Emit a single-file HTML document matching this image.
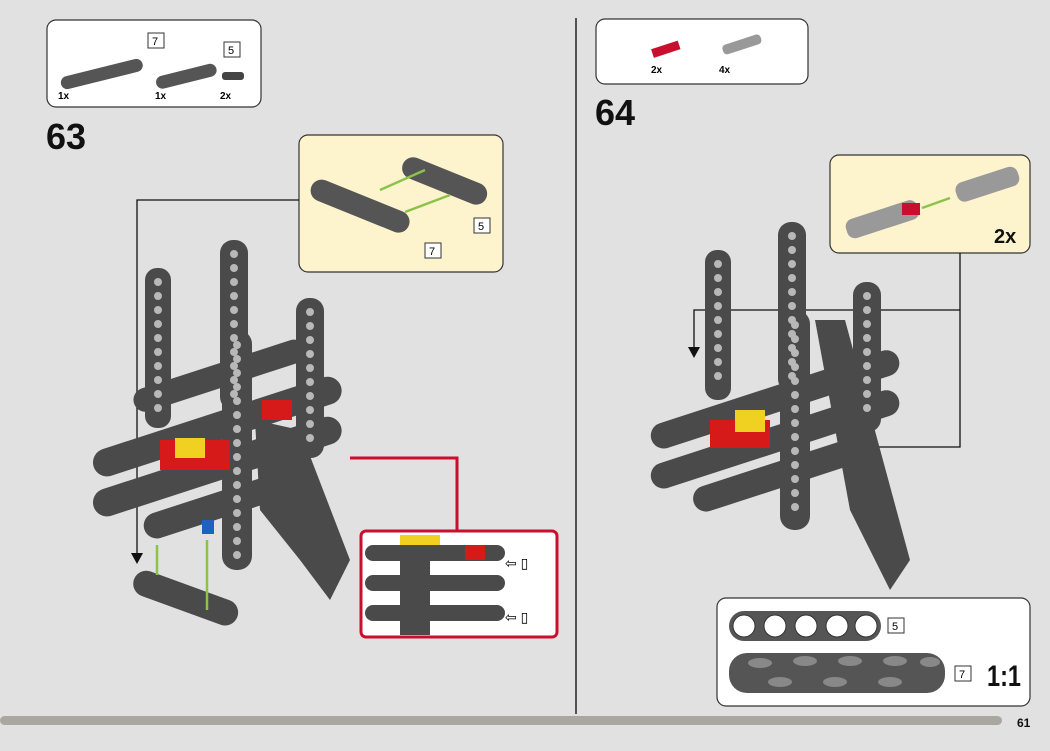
<!DOCTYPE html>
<html><head><meta charset="utf-8"><style>
body{margin:0;width:1050px;height:746px;background:#e1e1e1;overflow:hidden;font-family:"Liberation Sans",sans-serif;}
.h{fill:none;stroke:#b8b8b8;stroke-width:8;stroke-linecap:round;stroke-dasharray:0 14;}
</style></head><body>
<svg width="1050" height="746" viewBox="0 0 1050 746" xmlns="http://www.w3.org/2000/svg" font-family="Liberation Sans, sans-serif">
<rect width="1050" height="746" fill="#e1e1e1"/>
<line x1="576" y1="18" x2="576" y2="714" stroke="#222" stroke-width="1.5"/>
<rect x="0" y="716" width="1002" height="9" rx="4.5" fill="#aaa6a0"/>
<text x="1017" y="727" font-size="12" font-weight="bold" fill="#111">61</text>

<rect x="47" y="20" width="214" height="87" rx="9" fill="#fff" stroke="#333" stroke-width="1.2"/>
<g transform="rotate(-14 100 75)"><rect x="60" y="68" width="84" height="13" rx="6.5" fill="#555"/></g>
<g transform="rotate(-14 185 75)"><rect x="155" y="70" width="62" height="13" rx="6.5" fill="#555"/></g>
<rect x="222" y="72" width="22" height="8" rx="3" fill="#444"/>
<rect x="148" y="33" width="16" height="15" fill="#fff" stroke="#333"/><text x="152" y="45" font-size="11">7</text>
<rect x="224" y="42" width="16" height="15" fill="#fff" stroke="#333"/><text x="228" y="54" font-size="11">5</text>
<text x="58" y="99" font-size="10" font-weight="bold">1x</text>
<text x="155" y="99" font-size="10" font-weight="bold">1x</text>
<text x="220" y="99" font-size="10" font-weight="bold">2x</text>
<text x="46" y="149" font-size="36" font-weight="bold" fill="#111">63</text>

<rect x="299" y="135" width="204" height="137" rx="9" fill="#fdf3cd" stroke="#333" stroke-width="1.2"/>
<g transform="rotate(22 360 205)"><rect x="308" y="195" width="105" height="22" rx="11" fill="#555"/></g>
<g transform="rotate(22 445 180)"><rect x="400" y="170" width="90" height="22" rx="11" fill="#555"/></g>
<line x1="380" y1="190" x2="425" y2="170" stroke="#8bc34a" stroke-width="2.5"/>
<line x1="405" y1="212" x2="450" y2="195" stroke="#8bc34a" stroke-width="2.5"/>
<rect x="474" y="218" width="16" height="15" fill="#fff" stroke="#333"/><text x="478" y="230" font-size="11">5</text>
<rect x="425" y="243" width="16" height="15" fill="#fff" stroke="#333"/><text x="429" y="255" font-size="11">7</text>

<polyline points="299,200 137,200 137,555" fill="none" stroke="#111" stroke-width="1.3"/>
<polygon points="131,553 143,553 137,564" fill="#111"/>

<g fill="#4a4a4a">
<rect x="145" y="268" width="26" height="160" rx="12"/>
<rect x="220" y="240" width="28" height="170" rx="13"/>
<rect x="296" y="298" width="28" height="160" rx="13"/>
<g transform="rotate(-18 210 430)"><rect x="88" y="415" width="260" height="28" rx="14"/></g>
<g transform="rotate(-18 210 470)"><rect x="88" y="455" width="260" height="28" rx="14"/></g>
<g transform="rotate(-18 210 505)"><rect x="140" y="495" width="160" height="26" rx="13"/></g>
<g transform="rotate(-18 200 380)"><rect x="130" y="370" width="180" height="24" rx="12"/></g>
<path d="M255 420 L300 430 L350 560 L330 600 L300 560 L260 510 Z"/>
<rect x="222" y="330" width="30" height="240" rx="14"/>
<g transform="rotate(20 185 600)"><rect x="130" y="585" width="110" height="26" rx="13"/></g>
</g>
<line class="h" x1="158" y1="282" x2="158" y2="420"/>
<line class="h" x1="234" y1="254" x2="234" y2="400"/>
<line class="h" x1="310" y1="312" x2="310" y2="450"/>
<line class="h" x1="237" y1="345" x2="237" y2="560"/>
<rect x="160" y="440" width="70" height="30" fill="#d61a1a"/>
<rect x="175" y="438" width="30" height="20" fill="#f0d020"/>
<rect x="262" y="400" width="30" height="20" fill="#d61a1a"/>
<rect x="202" y="520" width="12" height="14" fill="#2060c0"/>
<line x1="157" y1="545" x2="157" y2="575" stroke="#8bc34a" stroke-width="2.5"/>
<line x1="207" y1="540" x2="207" y2="610" stroke="#8bc34a" stroke-width="2.5"/>
<polyline points="350,458 457,458 457,531" fill="none" stroke="#c8102e" stroke-width="3"/>
<rect x="361" y="531" width="196" height="106" rx="5" fill="#fff" stroke="#c8102e" stroke-width="3"/>
<g fill="#4a4a4a">
<rect x="365" y="545" width="140" height="16" rx="8"/>
<rect x="365" y="575" width="140" height="16" rx="8"/>
<rect x="365" y="605" width="140" height="16" rx="8"/>
<rect x="400" y="535" width="30" height="100"/>
</g>
<rect x="400" y="535" width="40" height="10" fill="#f0d020"/>
<rect x="465" y="545" width="20" height="15" fill="#d61a1a"/>
<text x="505" y="568" font-size="14">⇦ ▯</text>
<text x="505" y="622" font-size="14">⇦ ▯</text>

<rect x="596" y="19" width="212" height="65" rx="9" fill="#fff" stroke="#333" stroke-width="1.2"/>
<g transform="rotate(-18 665 50)"><rect x="652" y="45" width="28" height="9" fill="#c8102e"/></g>
<g transform="rotate(-18 740 45)"><rect x="722" y="40" width="40" height="10" rx="4" fill="#999"/></g>
<text x="651" y="73" font-size="10" font-weight="bold">2x</text>
<text x="719" y="73" font-size="10" font-weight="bold">4x</text>
<text x="595" y="125" font-size="36" font-weight="bold" fill="#111">64</text>

<rect x="830" y="155" width="200" height="98" rx="9" fill="#fdf3cd" stroke="#333" stroke-width="1.2"/>
<g transform="rotate(-18 880 220)"><rect x="845" y="210" width="75" height="20" rx="8" fill="#999"/></g>
<rect x="902" y="203" width="18" height="12" fill="#c8102e"/>
<g transform="rotate(-18 985 185)"><rect x="955" y="175" width="65" height="20" rx="8" fill="#999"/></g>
<line x1="922" y1="208" x2="950" y2="198" stroke="#8bc34a" stroke-width="2.5"/>
<text x="994" y="243" font-size="20" font-weight="bold" fill="#111">2x</text>

<polyline points="960,253 960,447 855,447" fill="none" stroke="#111" stroke-width="1.3"/>
<polygon points="848,447 858,441 858,453" fill="#111"/>
<polyline points="960,310 694,310 694,350" fill="none" stroke="#111" stroke-width="1.3"/>
<polygon points="688,347 700,347 694,358" fill="#111"/>

<g fill="#4a4a4a">
<rect x="705" y="250" width="26" height="150" rx="12"/>
<rect x="778" y="222" width="28" height="170" rx="13"/>
<rect x="853" y="282" width="28" height="150" rx="13"/>
<g transform="rotate(-18 770 400)"><rect x="645" y="388" width="260" height="26" rx="13"/></g>
<g transform="rotate(-18 770 440)"><rect x="645" y="428" width="260" height="26" rx="13"/></g>
<g transform="rotate(-18 760 480)"><rect x="690" y="468" width="170" height="26" rx="13"/></g>
<path d="M815 320 L845 320 L910 560 L890 590 L850 510 Z"/>
<rect x="780" y="310" width="30" height="220" rx="14"/>
</g>
<line class="h" x1="718" y1="264" x2="718" y2="390"/>
<line class="h" x1="792" y1="236" x2="792" y2="380"/>
<line class="h" x1="867" y1="296" x2="867" y2="420"/>
<line class="h" x1="795" y1="325" x2="795" y2="515"/>
<rect x="710" y="420" width="60" height="28" fill="#d61a1a"/>
<rect x="735" y="410" width="30" height="22" fill="#f0d020"/>

<rect x="717" y="598" width="313" height="108" rx="9" fill="#fff" stroke="#333" stroke-width="1.2"/>
<rect x="729" y="611" width="152" height="30" rx="15" fill="#555"/>
<g fill="#fff" stroke="#333"><circle cx="744" cy="626" r="11"/><circle cx="775" cy="626" r="11"/><circle cx="806" cy="626" r="11"/><circle cx="837" cy="626" r="11"/><circle cx="866" cy="626" r="11"/></g>
<rect x="888" y="618" width="16" height="15" fill="#fff" stroke="#333"/><text x="892" y="630" font-size="11">5</text>
<rect x="729" y="653" width="216" height="40" rx="18" fill="#555"/>
<g fill="#888"><ellipse cx="760" cy="663" rx="12" ry="5"/><ellipse cx="805" cy="661" rx="12" ry="5"/><ellipse cx="850" cy="661" rx="12" ry="5"/><ellipse cx="895" cy="661" rx="12" ry="5"/><ellipse cx="930" cy="662" rx="10" ry="5"/><ellipse cx="780" cy="682" rx="12" ry="5"/><ellipse cx="835" cy="682" rx="12" ry="5"/><ellipse cx="890" cy="682" rx="12" ry="5"/></g>
<rect x="955" y="666" width="16" height="15" fill="#fff" stroke="#333"/><text x="959" y="678" font-size="11">7</text>
<text x="987" y="686" font-size="30" font-weight="bold" fill="#111" textLength="34" lengthAdjust="spacingAndGlyphs">1:1</text>
</svg>
</body></html>
